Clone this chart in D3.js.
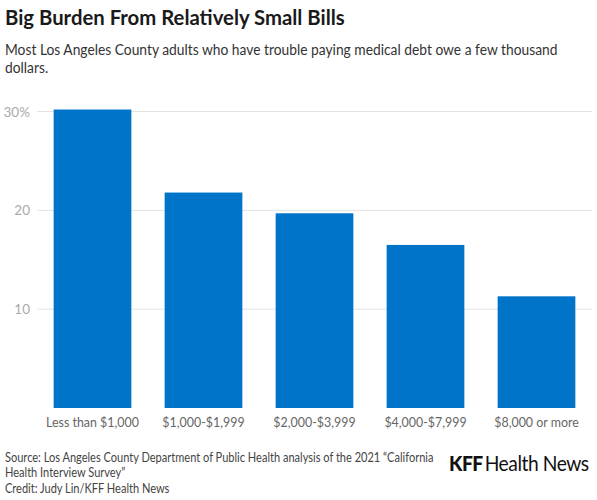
<!DOCTYPE html>
<html>
<head>
<meta charset="utf-8">
<script src="https://cdn.jsdelivr.net/npm/d3@7"></script>
<style>
  body { margin: 0; background: #fff; }
  svg text { font-family: Lato, "Open Sans", sans-serif; }
</style>
</head>
<body>
<div id="chart"></div>
<script>
// data
var categories = ["Less than $1,000", "$1,000-$1,999", "$2,000-$3,999", "$4,000-$7,999", "$8,000 or more"];
var shares = [30.2, 21.8, 19.7, 16.5, 11.3];
var yTicks = [10, 20, 30];

var W = 597, H = 500;
var svg = d3.select("#chart").append("svg")
  .attr("width", W)
  .attr("height", H);

// Lato is not the original face, so scale text horizontally
// around its anchor so that a reference line hits a known width
function squeeze(sel, refNode, target) {
  var k = target / refNode.getComputedTextLength();
  sel.attr("transform", function () {
    var x0 = +d3.select(this).attr("x");
    return "translate(" + x0 + ",0) scale(" + k + ",1) translate(" + (-x0) + ",0)";
  });
}

// header
var title = svg.append("text")
  .attr("x", 5).attr("y", 25)
  .attr("font-size", 20).attr("font-weight", 700).attr("fill", "#1a1a1a")
  .text("Big Burden From Relatively Small Bills");
squeeze(title, title.node(), 340);

var subLines = ["Most Los Angeles County adults who have trouble paying medical debt owe a few thousand", "dollars."];
var sub = svg.selectAll(".sub").data(subLines).enter().append("text")
  .attr("class", "sub")
  .attr("x", 5)
  .attr("y", function (d, i) { return 55 + i * 18.5; })
  .attr("font-size", 15).attr("fill", "#333")
  .text(function (d) { return d; });
squeeze(sub, sub.nodes()[0], 553);

// scales
var x = d3.scaleBand().domain(categories).range([37, 592]).paddingInner(0.3).paddingOuter(0.15);
var y = d3.scaleLinear().domain([0, 30]).range([408, 111.5]);

// grid
var grid = svg.append("g");
grid.selectAll("line").data(yTicks).enter().append("line")
  .attr("x1", 37).attr("x2", 592)
  .attr("y1", function (d) { return y(d); })
  .attr("y2", function (d) { return y(d); })
  .attr("stroke", "#e3e3e3").attr("stroke-width", 1);

grid.selectAll("text").data(yTicks).enter().append("text")
  .attr("x", 30)
  .attr("y", function (d) { return y(d) + 5; })
  .attr("text-anchor", "end")
  .attr("font-size", 13.5).attr("fill", "#aaa")
  .text(function (d) { return d === 30 ? d + "%" : d; });

// bars
svg.append("g").selectAll("rect").data(shares).enter().append("rect")
  .attr("x", function (d, i) { return x(categories[i]); })
  .attr("width", x.bandwidth())
  .attr("y", function (d) { return y(d); })
  .attr("height", function (d) { return y(0) - y(d); })
  .attr("fill", "#0074c8");

// x labels
var xLab = svg.append("g").selectAll("text").data(categories).enter().append("text")
  .attr("x", function (d) { return x(d) + x.bandwidth() / 2; })
  .attr("y", 427)
  .attr("text-anchor", "middle")
  .attr("font-size", 14).attr("fill", "#666")
  .text(function (d) { return d; });
squeeze(xLab, xLab.nodes()[0], 93);

// footer
var footLines = [
  {t: "Source: Los Angeles County Department of Public Health analysis of the 2021 \u201cCalifornia", y: 462},
  {t: "Health Interview Survey\u201d", y: 477},
  {t: "Credit: Judy Lin/KFF Health News", y: 493}
];
var foot = svg.selectAll(".foot").data(footLines).enter().append("text")
  .attr("class", "foot")
  .attr("x", 5).attr("y", function (d) { return d.y; })
  .attr("font-size", 13).attr("fill", "#444")
  .text(function (d) { return d.t; });
squeeze(foot, foot.nodes()[0], 429);

var logo = svg.append("text")
  .attr("x", 449).attr("y", 471)
  .attr("font-size", 21).attr("fill", "#111")
  .attr("letter-spacing", "-0.5");
logo.append("tspan").attr("font-weight", 900).text("KFF");
logo.append("tspan").attr("font-weight", 400).attr("dx", 2).text("Health News");
squeeze(logo, logo.node(), 138);
</script>
</body>
</html>
